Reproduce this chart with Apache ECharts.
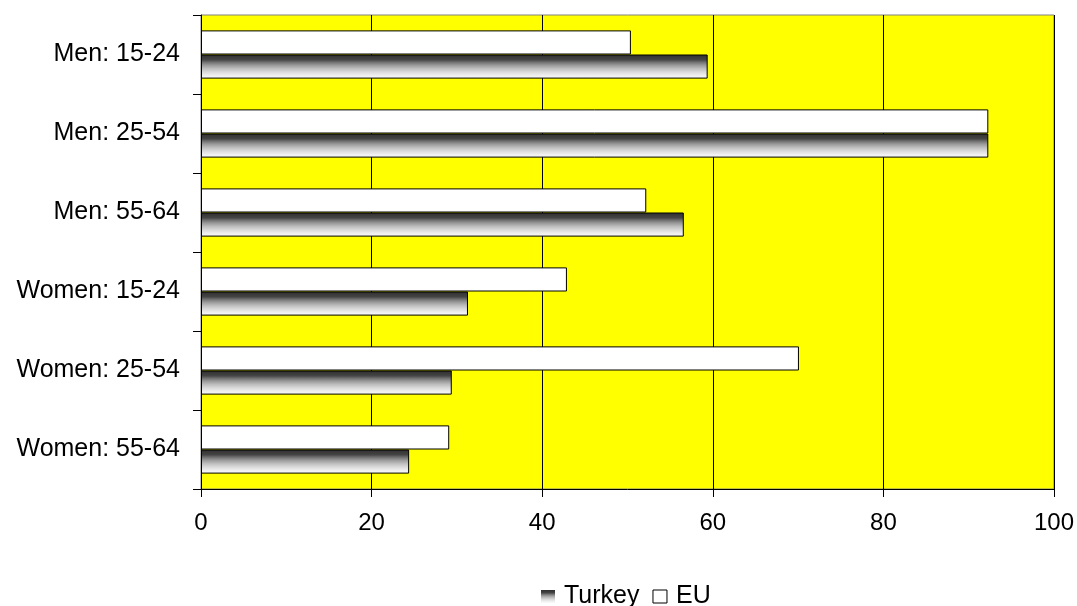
<!DOCTYPE html>
<html>
<head>
<meta charset="utf-8">
<style>
  html, body { margin: 0; padding: 0; background: #ffffff; }
  #chart { width: 1077px; height: 606px; }
</style>
<script src="https://cdn.jsdelivr.net/npm/echarts@6/dist/echarts.min.js"></script>
</head>
<body>
<div id="chart"></div>
<script>
// Age/sex groups, top to bottom
const categories = ['Men: 15-24', 'Men: 25-54', 'Men: 55-64', 'Women: 15-24', 'Women: 25-54', 'Women: 55-64'];
// Rates per group
const turkey = [59.4, 92.3, 56.6, 31.3, 29.4, 24.4];
const eu = [50.4, 92.3, 52.2, 42.9, 70.1, 29.1];
// Value axis
const xMin = 0;
const xMax = 100;
const xStep = 20;

const FONT = '"Liberation Sans", Arial, sans-serif';

// Shaded fill for the Turkey bars: dark at the top edge fading to white
const turkeyFill = {
  type: 'linear', x: 0, y: 0, x2: 0, y2: 1,
  colorStops: [
    { offset: 0.00, color: '#2e2e2e' },
    { offset: 0.22, color: '#454545' },
    { offset: 0.32, color: '#707070' },
    { offset: 0.44, color: '#999999' },
    { offset: 0.58, color: '#bdbdbd' },
    { offset: 0.72, color: '#d9d9d9' },
    { offset: 0.86, color: '#eeeeee' },
    { offset: 1.00, color: '#fbfbfb' }
  ]
};

const chart = echarts.init(document.getElementById('chart'), null, { renderer: 'canvas' });

chart.setOption({
  backgroundColor: '#ffffff',
  animation: false,
  textStyle: { fontFamily: FONT },
  grid: {
    left: 201, right: 23, top: 15, bottom: 117,
    show: true,
    backgroundColor: '#ffff00',
    borderColor: '#808080',
    borderWidth: 1
  },
  legend: {
    data: [
      { name: 'Turkey', icon: 'rect', itemStyle: { borderWidth: 0 } },
      { name: 'EU', icon: 'rect', itemStyle: { borderColor: '#000000', borderWidth: 1 } }
    ],
    left: 536,
    top: 579,
    itemWidth: 14,
    itemHeight: 13,
    itemGap: 13,
    textStyle: { fontFamily: FONT, fontSize: 25, color: '#000000', padding: [0, 0, 0, 4] }
  },
  xAxis: {
    type: 'value',
    min: xMin,
    max: xMax,
    interval: xStep,
    axisLine: { show: true, lineStyle: { color: '#000000', width: 1 } },
    axisTick: { show: true, inside: false, length: 8, lineStyle: { color: '#000000' } },
    axisLabel: { fontFamily: FONT, fontSize: 24, color: '#000000', margin: 22 },
    splitLine: { show: true, lineStyle: { color: '#000000', width: 1 } }
  },
  yAxis: {
    type: 'category',
    data: categories,
    inverse: true,
    axisLine: { show: true, lineStyle: { color: '#000000', width: 1 } },
    axisTick: { show: true, inside: false, length: 8, lineStyle: { color: '#000000' } },
    axisLabel: { fontFamily: FONT, fontSize: 25, color: '#000000', margin: 21 },
    splitLine: { show: false }
  },
  series: [
    {
      name: 'EU',
      type: 'bar',
      data: eu,
      barGap: '0%',
      barCategoryGap: '39%',
      itemStyle: { color: '#ffffff', borderColor: '#000000', borderWidth: 1 }
    },
    {
      name: 'Turkey',
      type: 'bar',
      data: turkey,
      barGap: '0%',
      barCategoryGap: '39%',
      itemStyle: { color: turkeyFill, borderColor: '#000000', borderWidth: 1 }
    }
  ]
});
</script>
</body>
</html>
